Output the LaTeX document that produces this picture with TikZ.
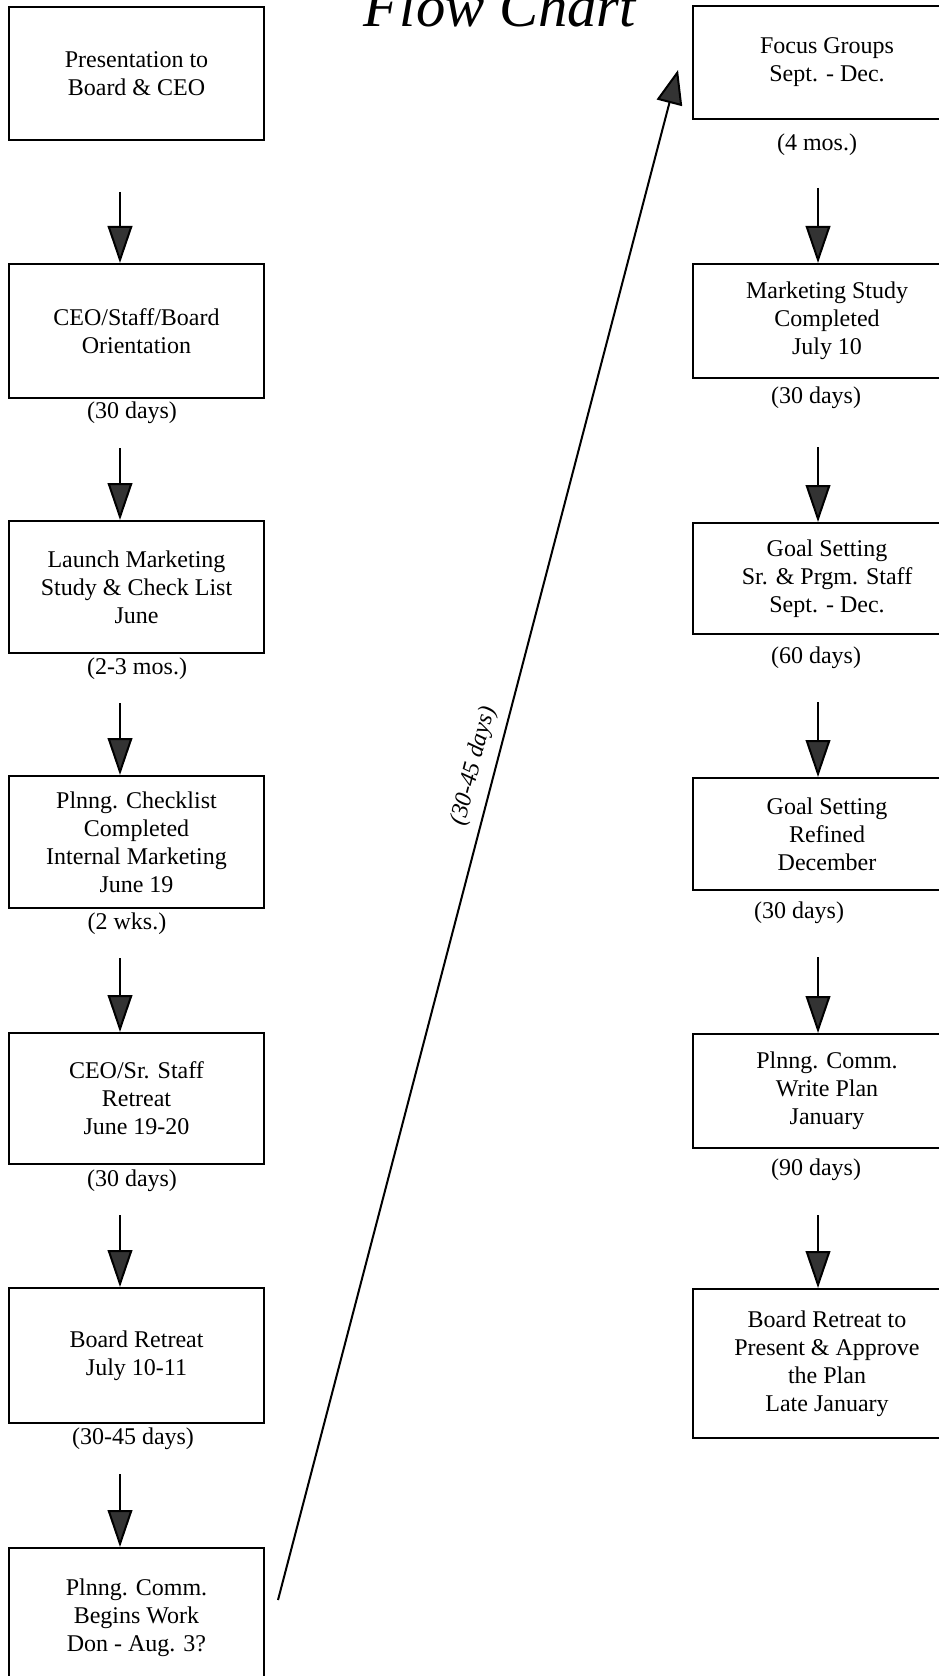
\documentclass[tikz,border=0pt]{standalone}
\usepackage{fontspec}
\setmainfont{Liberation Serif}
\usetikzlibrary{arrows.meta,calc}
\definecolor{headgray}{HTML}{333333}
\begin{document}
\begin{tikzpicture}[x=0.75pt,y=-0.75pt,
  every node/.style={font=\fontsize{18}{21}\selectfont, inner sep=0pt},
  lbox/.style={draw, line width=1.5pt, minimum width=191.25pt, minimum height=#1*0.75pt, anchor=north, align=center},
  rbox/.style={draw, line width=1.5pt, minimum width=201pt, minimum height=#1*0.75pt, anchor=north, align=center},
  dur/.style={anchor=center},
  flow/.style={line width=1.5pt, -{Triangle[length=27.75pt,width=18.5pt,fill=headgray]}},
  diag/.style={line width=1.5pt, -{Triangle[length=25.5pt,width=19.5pt,fill=headgray]}},
]
\useasboundingbox (0,0) rectangle (938,1676);

% title (cut off at top)
\node[font=\fontsize{44}{44}\selectfont\itshape, anchor=base] (title) at (500,27) {Flow Chart};

% left column
\node[lbox=133] (b1) at (136.5,6) {Presentation to\\Board \& CEO};
\node[lbox=134] (b2) at (136.5,263) {CEO/Staff/Board\\Orientation};
\node[lbox=132] (b3) at (136.5,520) {Launch Marketing\\Study \& Check List\\June};
\node[lbox=132] (b4) at (136.5,775) {Plnng. Checklist\\Completed\\Internal Marketing\\June 19};
\node[lbox=131] (b5) at (136.5,1032) {CEO/Sr. Staff\\Retreat\\June 19-20};
\node[lbox=135] (b6) at (136.5,1287) {Board Retreat\\July 10-11};
\node[lbox=140] (b7) at (136.5,1547) {Plnng. Comm.\\Begins Work\\Don - Aug. 3?};

\node[dur] (l2) at (132,413) {(30 days)};
\node[dur] (l3) at (137,669) {(2-3 mos.)};
\node[dur] (l4) at (127,924) {(2 wks.)};
\node[dur] (l5) at (132,1181) {(30 days)};
\node[dur] (l6) at (133,1439) {(30-45 days)};

% right column
\node[rbox=113] (f1) at (827,5) {Focus Groups\\Sept. - Dec.};
\node[rbox=114] (f2) at (827,263) {Marketing Study\\Completed\\July 10};
\node[rbox=111] (f3) at (827,522) {Goal Setting\\Sr. \& Prgm. Staff\\Sept. - Dec.};
\node[rbox=112] (f4) at (827,777) {Goal Setting\\Refined\\December};
\node[rbox=114] (f5) at (827,1033) {Plnng. Comm.\\Write Plan\\January};
\node[rbox=149] (f6) at (827,1288) {Board Retreat to\\Present \& Approve\\the Plan\\Late January};

\node[dur] (r1) at (817,145) {(4 mos.)};
\node[dur] (r2) at (816,398) {(30 days)};
\node[dur] (r3) at (816,658) {(60 days)};
\node[dur] (r4) at (799,913) {(30 days)};
\node[dur] (r5) at (816,1170) {(90 days)};

% left arrows
\coordinate (la1) at (120,192);
\coordinate (la2) at (120,448);
\coordinate (la3) at (120,703);
\coordinate (la4) at (120,958);
\coordinate (la5) at (120,1215);
\coordinate (la6) at (120,1474);
\draw[flow] (la1) -- (la1 |- b2.north);
\draw[flow] (la2) -- (la2 |- b3.north);
\draw[flow] (la3) -- (la3 |- b4.north);
\draw[flow] (la4) -- (la4 |- b5.north);
\draw[flow] (la5) -- (la5 |- b6.north);
\draw[flow] (la6) -- (la6 |- b7.north);

% right arrows
\coordinate (ra1) at (818,188);
\coordinate (ra2) at (818,447);
\coordinate (ra3) at (818,702);
\coordinate (ra4) at (818,957);
\coordinate (ra5) at (818,1215);
\draw[flow] (ra1) -- (ra1 |- f2.north);
\draw[flow] (ra2) -- (ra2 |- f3.north);
\draw[flow] (ra3) -- (ra3 |- f4.north);
\draw[flow] (ra4) -- (ra4 |- f5.north);
\draw[flow] (ra5) -- (ra5 |- f6.north);

% diagonal connector
\draw[diag] ($(b7.north east)+(13,53)$) -- ($(f1.north west)+(-14,65)$);
\node[rotate=75.3, font=\fontsize{18}{21}\selectfont\itshape] (dl) at (474,766) {(30-45 days)};
\end{tikzpicture}
\end{document}
